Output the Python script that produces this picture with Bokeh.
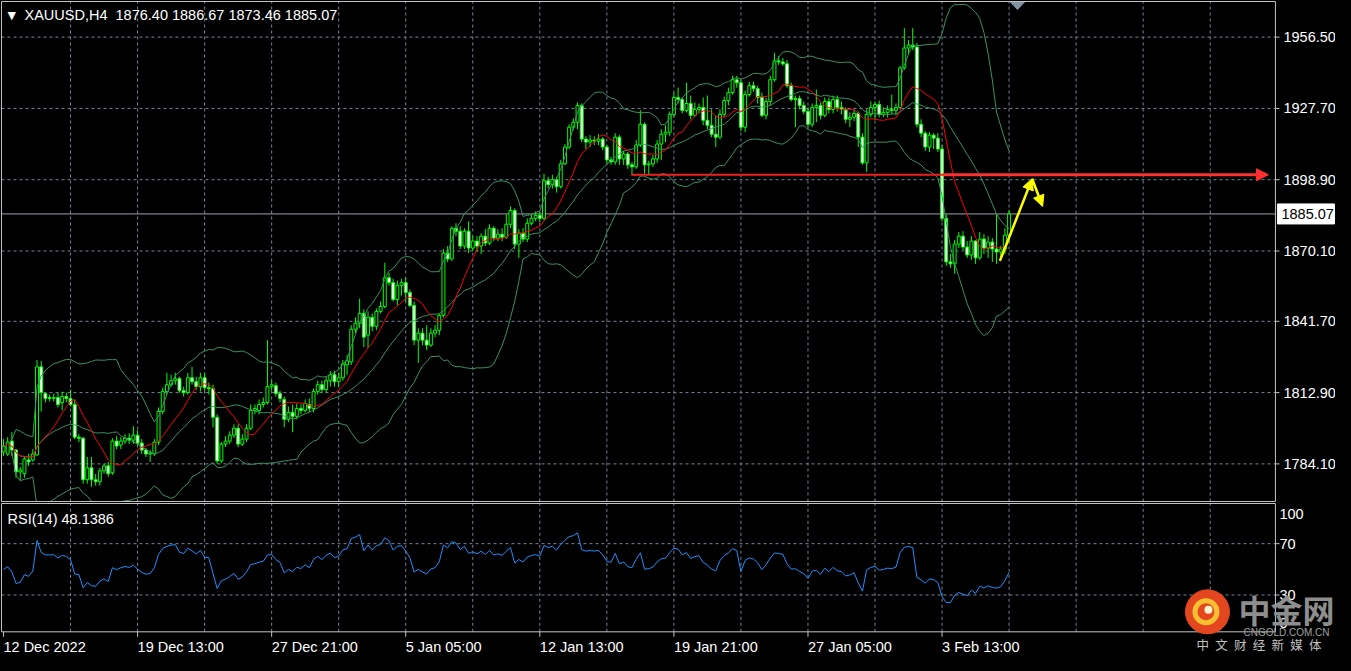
import numpy as np
import pandas as pd
from bokeh.plotting import figure
from bokeh.layouts import column
from bokeh.models import (ColumnDataSource, Range1d, Arrow, NormalHead, GlobalInlineStyleSheet)
from bokeh.core.properties import value
from bokeh.embed import file_html
from bokeh.resources import INLINE

# ---------------- data (XAUUSD H4) ----------------
opens = [
    1788.9, 1788.1, 1793.3, 1789.7, 1780.9, 1780.1, 1785.7, 1785.7, 1787.7, 1823.3,
    1812.5, 1810.9, 1810.5, 1810.9, 1808.9, 1811.3, 1810.5, 1808.1, 1794.9, 1794.5,
    1777.7, 1782.5, 1777.7, 1776.9, 1781.3, 1783.3, 1780.5, 1793.3, 1791.7, 1793.3,
    1794.5, 1793.7, 1795.7, 1792.5, 1789.7, 1788.1, 1788.1, 1792.9, 1805.3, 1813.3,
    1816.1, 1817.7, 1818.5, 1813.7, 1812.9, 1818.9, 1817.3, 1815.3, 1818.9, 1814.9,
    1814.5, 1802.9, 1785.3, 1792.1, 1793.3, 1795.7, 1798.5, 1792.1, 1794.1, 1798.5,
    1805.7, 1805.7, 1808.1, 1808.9, 1815.3, 1815.7, 1812.5, 1810.1, 1802.1, 1804.9,
    1803.3, 1806.5, 1805.7, 1808.1, 1806.5, 1813.3, 1816.1, 1814.1, 1817.7, 1820.1,
    1817.3, 1818.9, 1824.1, 1825.3, 1838.5, 1840.9, 1844.9, 1836.1, 1843.3, 1839.7,
    1845.7, 1847.7, 1859.3, 1857.3, 1850.5, 1856.1, 1857.3, 1853.3, 1848.1, 1834.1,
    1836.9, 1834.1, 1832.1, 1836.9, 1838.1, 1844.1, 1869.3, 1866.9, 1879.3, 1878.1,
    1872.1, 1878.1, 1871.3, 1874.1, 1872.1, 1876.1, 1873.3, 1879.3, 1875.3, 1876.9,
    1875.7, 1880.9, 1886.5, 1872.9, 1877.3, 1874.9, 1881.3, 1883.3, 1884.5, 1883.3,
    1898.5, 1896.9, 1898.9, 1896.1, 1905.3, 1912.1, 1920.1, 1922.1, 1928.9, 1915.3,
    1914.1, 1914.9, 1914.5, 1915.3, 1912.1, 1906.9, 1906.1, 1916.1, 1907.3, 1909.3,
    1904.9, 1904.1, 1912.9, 1921.3, 1904.9, 1905.3, 1907.3, 1913.3, 1917.3, 1918.1,
    1925.3, 1932.1, 1931.3, 1926.9, 1929.7, 1924.9, 1927.3, 1928.1, 1922.9, 1920.9,
    1917.3, 1916.1, 1925.3, 1930.9, 1934.1, 1939.3, 1938.1, 1920.1, 1933.3, 1936.9,
    1935.7, 1932.1, 1924.9, 1930.5, 1939.3, 1946.9, 1946.5, 1945.7, 1936.9, 1931.3,
    1931.7, 1928.9, 1926.5, 1921.3, 1928.1, 1928.9, 1924.9, 1930.5, 1927.3, 1931.3,
    1928.1, 1927.3, 1923.3, 1924.1, 1925.7, 1916.1, 1905.7, 1925.3, 1928.1, 1929.3,
    1925.3, 1926.1, 1927.3, 1926.9, 1928.1, 1944.1, 1952.1, 1953.3, 1952.5, 1921.3,
    1917.7, 1912.1, 1916.9, 1915.7, 1911.3, 1883.3, 1865.7, 1864.9, 1872.9, 1876.1,
    1871.7, 1868.5, 1874.1, 1867.3, 1874.9, 1871.3, 1873.7, 1870.9, 1869.7, 1870.9,
    1876.40,
]
highs = [
    1794.1, 1794.9, 1796.9, 1790.1, 1782.9, 1786.9, 1788.1, 1790.1, 1826.1, 1825.7,
    1812.9, 1812.1, 1812.5, 1812.9, 1813.3, 1812.9, 1814.1, 1810.1, 1796.1, 1794.9,
    1786.9, 1786.9, 1780.1, 1782.5, 1784.1, 1784.9, 1794.5, 1795.3, 1794.9, 1796.1,
    1796.5, 1799.3, 1797.7, 1794.1, 1790.5, 1789.7, 1794.1, 1806.9, 1814.9, 1820.9,
    1820.1, 1820.9, 1819.3, 1815.3, 1820.9, 1823.3, 1819.3, 1820.9, 1820.9, 1816.9,
    1816.1, 1804.1, 1792.9, 1795.3, 1797.3, 1800.1, 1800.1, 1796.1, 1800.1, 1808.1,
    1808.1, 1810.1, 1810.9, 1834.1, 1817.7, 1816.9, 1813.7, 1811.3, 1807.3, 1808.1,
    1808.5, 1808.1, 1810.1, 1810.5, 1814.5, 1817.7, 1817.7, 1819.3, 1821.7, 1821.7,
    1820.9, 1826.1, 1828.1, 1840.1, 1843.3, 1850.9, 1846.5, 1845.7, 1844.9, 1846.9,
    1849.7, 1865.3, 1861.3, 1858.9, 1858.1, 1858.9, 1859.3, 1854.5, 1849.7, 1838.9,
    1838.9, 1840.1, 1838.9, 1840.1, 1844.9, 1870.9, 1872.1, 1880.1, 1881.3, 1880.1,
    1879.3, 1882.1, 1876.1, 1876.1, 1877.3, 1878.9, 1880.9, 1880.1, 1878.9, 1879.3,
    1884.9, 1888.1, 1887.3, 1878.9, 1879.3, 1883.3, 1884.9, 1886.1, 1885.7, 1901.3,
    1900.1, 1900.9, 1900.1, 1906.9, 1913.3, 1921.3, 1923.7, 1930.1, 1929.7, 1916.5,
    1916.9, 1916.5, 1917.3, 1916.1, 1912.9, 1908.1, 1917.7, 1916.9, 1910.5, 1910.1,
    1906.1, 1914.9, 1926.9, 1922.1, 1906.5, 1908.9, 1914.9, 1919.3, 1920.9, 1926.5,
    1934.1, 1936.1, 1932.1, 1938.1, 1932.9, 1930.1, 1929.7, 1932.1, 1932.9, 1927.3,
    1924.9, 1927.3, 1932.5, 1936.1, 1940.9, 1940.9, 1939.3, 1934.9, 1938.5, 1938.5,
    1936.9, 1934.1, 1932.1, 1940.9, 1950.1, 1948.9, 1948.1, 1947.3, 1938.1, 1932.9,
    1932.9, 1930.5, 1928.1, 1929.7, 1935.3, 1930.1, 1932.1, 1932.1, 1932.9, 1932.9,
    1930.5, 1928.1, 1926.1, 1927.3, 1926.5, 1917.7, 1927.3, 1930.5, 1930.5, 1930.9,
    1928.1, 1928.9, 1933.3, 1929.7, 1944.9, 1960.1, 1955.3, 1960.1, 1954.1, 1923.3,
    1918.5, 1918.1, 1917.7, 1917.7, 1912.9, 1884.9, 1868.9, 1874.5, 1877.7, 1878.1,
    1874.1, 1876.1, 1874.5, 1877.7, 1876.9, 1876.1, 1875.3, 1884.9, 1872.1, 1879.3,
    1886.67,
]
lows = [
    1787.3, 1787.3, 1787.3, 1778.5, 1777.3, 1778.5, 1783.3, 1784.9, 1787.3, 1805.3,
    1808.9, 1809.3, 1809.3, 1806.9, 1805.7, 1808.9, 1807.3, 1794.1, 1792.9, 1776.1,
    1776.1, 1774.9, 1775.3, 1775.3, 1780.1, 1778.9, 1779.7, 1790.1, 1790.1, 1792.1,
    1792.1, 1792.1, 1791.3, 1788.1, 1786.9, 1784.9, 1787.3, 1791.7, 1804.1, 1812.1,
    1815.3, 1816.1, 1812.9, 1811.3, 1812.1, 1816.1, 1814.1, 1813.3, 1813.7, 1812.1,
    1798.9, 1784.1, 1784.5, 1790.9, 1792.1, 1794.5, 1790.9, 1791.3, 1792.9, 1797.7,
    1804.1, 1804.1, 1806.9, 1808.1, 1813.7, 1811.3, 1808.9, 1798.9, 1800.9, 1796.9,
    1802.1, 1804.1, 1804.9, 1804.9, 1804.9, 1812.1, 1812.9, 1812.9, 1815.3, 1815.3,
    1815.3, 1817.7, 1820.1, 1824.1, 1836.9, 1838.9, 1831.3, 1830.9, 1837.7, 1838.1,
    1844.9, 1846.9, 1856.1, 1849.7, 1848.1, 1852.1, 1849.7, 1847.3, 1832.1, 1824.9,
    1832.1, 1830.1, 1831.3, 1835.3, 1836.1, 1843.3, 1865.7, 1866.1, 1876.1, 1870.9,
    1870.9, 1869.3, 1870.1, 1869.7, 1868.9, 1872.1, 1872.5, 1874.1, 1874.1, 1874.1,
    1874.9, 1879.3, 1870.9, 1867.3, 1873.7, 1873.7, 1880.5, 1882.1, 1881.7, 1882.5,
    1895.3, 1895.3, 1893.7, 1895.3, 1904.9, 1911.3, 1918.9, 1919.3, 1914.1, 1911.3,
    1912.1, 1912.9, 1912.9, 1910.9, 1905.7, 1904.9, 1904.9, 1904.9, 1904.9, 1903.3,
    1900.9, 1903.3, 1912.1, 1901.3, 1900.9, 1904.1, 1905.7, 1906.9, 1914.1, 1916.5,
    1924.1, 1929.7, 1925.7, 1926.1, 1923.3, 1924.1, 1925.7, 1920.9, 1919.3, 1916.1,
    1912.1, 1915.3, 1924.1, 1928.9, 1933.3, 1936.1, 1918.5, 1918.1, 1932.5, 1934.5,
    1929.7, 1924.1, 1923.3, 1928.9, 1938.5, 1945.3, 1944.9, 1936.1, 1930.5, 1920.1,
    1927.3, 1925.3, 1920.1, 1920.1, 1922.1, 1923.3, 1924.1, 1925.7, 1925.7, 1926.5,
    1925.3, 1921.7, 1920.1, 1922.5, 1912.1, 1904.9, 1902.1, 1924.1, 1923.3, 1924.1,
    1924.1, 1924.1, 1925.3, 1924.9, 1927.3, 1943.3, 1949.7, 1951.3, 1920.1, 1916.1,
    1910.5, 1910.1, 1911.3, 1910.1, 1882.1, 1864.1, 1863.3, 1860.9, 1871.3, 1870.5,
    1867.3, 1866.5, 1864.9, 1866.5, 1868.9, 1867.3, 1865.7, 1864.9, 1866.5, 1868.9,
    1873.46,
]
closes = [
    1791.3, 1792.9, 1789.7, 1780.9, 1781.7, 1786.1, 1784.9, 1788.1, 1823.3, 1812.9,
    1810.5, 1810.5, 1810.9, 1808.1, 1811.3, 1810.5, 1808.1, 1794.9, 1794.5, 1777.7,
    1782.5, 1777.7, 1776.9, 1781.3, 1783.3, 1780.1, 1793.3, 1791.3, 1793.3, 1794.5,
    1793.7, 1795.7, 1792.5, 1789.7, 1788.1, 1788.5, 1792.9, 1805.3, 1813.3, 1816.1,
    1817.7, 1818.5, 1813.7, 1812.9, 1818.9, 1817.3, 1815.3, 1818.9, 1814.9, 1814.5,
    1802.9, 1785.3, 1792.1, 1793.3, 1795.7, 1798.5, 1792.1, 1794.1, 1798.5, 1805.7,
    1806.5, 1808.1, 1808.9, 1815.3, 1816.1, 1812.5, 1810.5, 1802.1, 1804.9, 1803.3,
    1806.5, 1805.7, 1808.5, 1806.5, 1813.3, 1816.1, 1814.1, 1817.7, 1820.1, 1817.3,
    1818.9, 1824.5, 1825.7, 1838.5, 1840.9, 1844.9, 1835.3, 1843.3, 1839.7, 1845.7,
    1847.7, 1859.3, 1857.3, 1850.5, 1856.1, 1857.3, 1853.3, 1848.1, 1834.1, 1836.9,
    1834.1, 1832.1, 1836.9, 1838.1, 1844.1, 1869.3, 1866.9, 1879.3, 1878.1, 1872.1,
    1878.1, 1871.3, 1874.1, 1872.1, 1876.1, 1873.3, 1879.3, 1875.3, 1876.9, 1875.7,
    1880.9, 1886.5, 1872.9, 1877.3, 1874.9, 1881.3, 1883.3, 1884.5, 1883.3, 1898.5,
    1896.9, 1898.9, 1896.1, 1905.3, 1912.1, 1920.1, 1922.1, 1928.9, 1915.3, 1914.1,
    1914.9, 1914.5, 1915.3, 1912.1, 1906.9, 1906.1, 1916.1, 1907.3, 1909.3, 1904.9,
    1904.1, 1912.9, 1921.3, 1904.9, 1905.3, 1907.3, 1913.3, 1917.3, 1918.1, 1925.3,
    1932.1, 1931.3, 1926.9, 1929.7, 1924.9, 1927.3, 1928.1, 1922.9, 1920.9, 1917.3,
    1916.1, 1925.3, 1930.9, 1934.1, 1939.3, 1938.1, 1920.1, 1933.3, 1936.9, 1935.7,
    1932.1, 1924.9, 1930.5, 1939.3, 1946.9, 1946.5, 1945.7, 1936.9, 1931.3, 1931.7,
    1928.9, 1926.5, 1921.3, 1928.1, 1928.9, 1924.9, 1930.5, 1927.3, 1931.3, 1928.1,
    1927.3, 1923.3, 1924.1, 1925.7, 1916.1, 1905.7, 1925.3, 1928.1, 1929.3, 1925.3,
    1926.1, 1927.3, 1926.9, 1928.1, 1944.1, 1952.1, 1953.3, 1952.5, 1921.3, 1917.7,
    1912.1, 1916.9, 1915.7, 1911.3, 1883.3, 1865.7, 1864.9, 1872.9, 1876.1, 1871.7,
    1868.5, 1874.1, 1867.3, 1874.9, 1871.3, 1873.7, 1870.9, 1869.7, 1870.9, 1876.5,
    1885.07,
]

price_ticks = [1784.10, 1812.90, 1841.70, 1870.10, 1898.90, 1927.70, 1956.50]
last_price = 1885.07
date_ticks = [0, 32, 64, 96, 128, 160, 192, 224]
date_labels = ["12 Dec 2022", "19 Dec 13:00", "27 Dec 21:00", "5 Jan 05:00",
               "12 Jan 13:00", "19 Jan 21:00", "27 Jan 05:00", "3 Feb 13:00"]
grid_bars = [16 * k for k in range(1, 19)]
rsi_levels = [30, 70]
rsi_scale_labels = ["100", "70", "30", "0"]
title_text = "XAUUSD,H4\u00a0 1876.40 1886.67 1873.46 1885.07"
rsi_text = "RSI(14) 48.1386"

# drawn objects (annotations) in chart coordinates
red_line_x = [149.8, 224.0]
red_arrow_x = [224.0, 301.9]
red_level = 1900.9
yellow_up = [(237.8, 1866.1), (245.5, 1899.3)]
yellow_down = [(245.5, 1899.3), (248.0, 1888.1)]

# ---------------- indicators ----------------
c = pd.Series(closes)
ma_red = c.rolling(10, min_periods=1).mean()
bb_mid = c.rolling(20, min_periods=3).mean()
bb_sd = c.rolling(20, min_periods=3).std(ddof=0)
bb_up = bb_mid + 2 * bb_sd
bb_lo = bb_mid - 2 * bb_sd

d = c.diff().fillna(0.0).values
ag, al = 1.5, 1.5
rsi = []
for i in range(len(d)):
    if i > 0:
        ag = (ag * 13 + max(d[i], 0.0)) / 14
        al = (al * 13 + max(-d[i], 0.0)) / 14
    rsi.append(100 - 100 / (1 + ag / al))

n = len(closes)
xs = list(range(n))

# ---------------- layout geometry ----------------
FONT = value("Liberation Sans")
FS = value("14.5px")
LIME = "#00ff00"
GRID = "#75859a"
BAND = "#3a9163"
BORDER = "#c4c4c4"
W = 1335
H1, H2 = 502, 153
PXB = 4.19                         # pixels per bar
X0 = -0.714
X1 = X0 + W / PXB
L, R = -0.476, 303.57              # panel left / right border (bars)
P_T, P_B = 1970.9, 1768.9          # price panel top / bottom border
Y1 = (1768.5, 1971.3)
PPX1 = (Y1[1] - Y1[0]) / H1        # price per pixel
R_T, R_B = 101.3, 1.3              # rsi panel top / bottom border
Y2 = (-17.15, 102.08)
PPX2 = (Y2[1] - Y2[0]) / H2

xr = Range1d(X0, X1)


def make_fig(h, yr):
    p = figure(width=W, height=h, x_range=xr, y_range=Range1d(*yr),
               output_backend="svg", toolbar_location=None,
               x_axis_location=None, y_axis_location=None,
               min_border_left=0, min_border_right=0, min_border_top=0, min_border_bottom=0,
               background_fill_color="black", border_fill_color="black")
    p.outline_line_color = None
    p.grid.visible = False
    return p


def panel(p, top, bot, hlevels):
    # dashed grid limited to the panel
    p.segment(x0=grid_bars, y0=[bot] * len(grid_bars), x1=grid_bars, y1=[top] * len(grid_bars),
              line_color=GRID, line_dash="3 3", line_width=1)
    p.segment(x0=[L] * len(hlevels), y0=hlevels, x1=[R] * len(hlevels), y1=hlevels,
              line_color=GRID, line_dash="3 3", line_width=1)
    # tick marks on the right scale
    p.segment(x0=[R] * len(hlevels), y0=hlevels, x1=[R + 4 / PXB] * len(hlevels), y1=hlevels,
              line_color=BORDER, line_width=1)


def border(p, top, bot):
    p.line([L, R, R, L, L], [top, top, bot, bot, top], line_color=BORDER, line_width=1)


# ---------------- main price panel ----------------
p1 = make_fig(H1, Y1)
panel(p1, P_T, P_B, price_ticks)

p1.segment(x0=[L], y0=[last_price], x1=[R], y1=[last_price], line_color="#9ba4b0", line_width=1)

src = ColumnDataSource(dict(
    x=xs, o=opens, h=highs, l=lows, c=closes,
    top=[max(a, b) for a, b in zip(opens, closes)],
    bot=[min(a, b) for a, b in zip(opens, closes)],
    fill=["black" if cl >= op else "white" for op, cl in zip(opens, closes)],
))
p1.segment(x0="x", y0="l", x1="x", y1="h", source=src, line_color=LIME, line_width=1)
p1.vbar(x="x", width=0.7, top="top", bottom="bot", fill_color="fill",
        line_color=LIME, line_width=1, source=src)

p1.line(xs, bb_up, line_color=BAND, line_width=1)
p1.line(xs, bb_mid, line_color=BAND, line_width=1)
p1.line(xs, bb_lo, line_color=BAND, line_width=1)
p1.line(xs, ma_red, line_color="#ff0000", line_width=1)

RED = "#ff3030"
p1.line(red_line_x, [red_level, red_level], line_color="#f02020", line_width=2)
p1.add_layout(Arrow(end=NormalHead(size=12, fill_color=RED, line_color=RED),
                    x_start=red_arrow_x[0], y_start=red_level,
                    x_end=red_arrow_x[1], y_end=red_level,
                    line_color=RED, line_width=3))
YEL = "#ffff00"
for seg in (yellow_up, yellow_down):
    p1.add_layout(Arrow(end=NormalHead(size=11, fill_color=YEL, line_color=YEL),
                        x_start=seg[0][0], y_start=seg[0][1],
                        x_end=seg[1][0], y_end=seg[1][1],
                        line_color=YEL, line_width=2.5))

# chart-shift marker at the top
sx = n + 1
p1.patch([sx - 1.8, sx + 1.8, sx], [P_T, P_T, P_T - 8 * PPX1],
         fill_color="#8391a2", line_color="#8391a2")

border(p1, P_T, P_B)

# right price scale
p1.text(x=[R + 8 / PXB] * len(price_ticks), y=price_ticks,
        text=[f"{v:.2f}" for v in price_ticks], text_color="white",
        text_font=FONT, text_font_size=FS, text_baseline="middle", text_align="left")
p1.quad(left=[R + 2 / PXB], right=[R + 59 / PXB],
        top=[last_price + 10 * PPX1], bottom=[last_price - 10 * PPX1],
        fill_color="white", line_color="white")
p1.text(x=[R + 6 / PXB], y=[last_price], text=[f"{last_price:.2f}"], text_color="black",
        text_font=FONT, text_font_size=FS, text_baseline="middle", text_align="left")

# header
p1.text(x=[L + 6 / PXB], y=[P_T - 14 * PPX1], text=["\u25bc"], text_color="white",
        text_font=value("DejaVu Sans"), text_font_size=value("11px"),
        text_baseline="middle", text_align="left")
p1.text(x=[L + 23 / PXB], y=[P_T - 14 * PPX1], text=[title_text], text_color="white",
        text_font=FONT, text_font_size=FS, text_baseline="middle", text_align="left")

# ---------------- RSI panel ----------------
p2 = make_fig(H2, Y2)
panel(p2, R_T, R_B, rsi_levels)
p2.line(xs, rsi, line_color="#1e90ff", line_width=1)
border(p2, R_T, R_B)

# time scale: tick marks and left-aligned labels
p2.segment(x0=date_ticks, y0=[R_B] * len(date_ticks), x1=date_ticks,
           y1=[R_B - 5 * PPX2] * len(date_ticks), line_color=BORDER, line_width=1)
p2.text(x=date_ticks, y=[R_B - 15 * PPX2] * len(date_ticks), text=date_labels,
        text_color="white", text_font=FONT, text_font_size=FS,
        text_baseline="middle", text_align="left")

# rsi scale labels (100 and 0 are drawn inside the scale, as in the terminal)
p2.text(x=[R + 4 / PXB] * 4, y=[R_T - 10 * PPX2, 70, 30, R_B + 9 * PPX2],
        text=rsi_scale_labels, text_color="white", text_font=FONT, text_font_size=FS,
        text_baseline="middle", text_align="left")

p2.text(x=[L + 6 / PXB], y=[R_T - 15 * PPX2], text=[rsi_text], text_color="white",
        text_font=FONT, text_font_size=FS, text_baseline="middle", text_align="left")

# watermark
wm_x = R - 68 / PXB
wm_y = R_B + 20 * PPX2
p2.scatter([wm_x], [wm_y], size=44, fill_color="#e4471f", line_color="#e4471f")
p2.scatter([wm_x - 1.5 / PXB], [wm_y], size=22, fill_color=None, line_color="#f6c032",
           line_width=5)
p2.scatter([wm_x + 1 / PXB], [wm_y + 2 * PPX2], size=8, fill_color="#fff4d0",
           line_color=None)
p2.text(x=[R - 37 / PXB], y=[wm_y + 3 * PPX2], text=["中金网"], text_color="#8e8e8e",
        text_font=value("Noto Sans CJK SC"), text_font_style="bold",
        text_font_size=value("32px"), text_baseline="middle", text_align="left")
p2.text(x=[R - 32 / PXB], y=[R_B - 1 * PPX2], text=["CNGOLD.COM.CN"], text_color="#a0a0a0",
        text_font=FONT, text_font_size=value("10px"), text_baseline="middle",
        text_align="left")
p2.text(x=[R - 79 / PXB], y=[R_B - 13 * PPX2],
        text=["中\u2002文\u2002财\u2002经\u2002新\u2002媒\u2002体"], text_color="#c0c0c0",
        text_font=value("Noto Sans CJK SC"), text_font_size=value("12.5px"),
        text_baseline="middle", text_align="left")

layout = column(p1, p2, stylesheets=[GlobalInlineStyleSheet(css="html, body { background-color: #000000; }")])
open("out.html", "w").write(file_html(layout, INLINE))
